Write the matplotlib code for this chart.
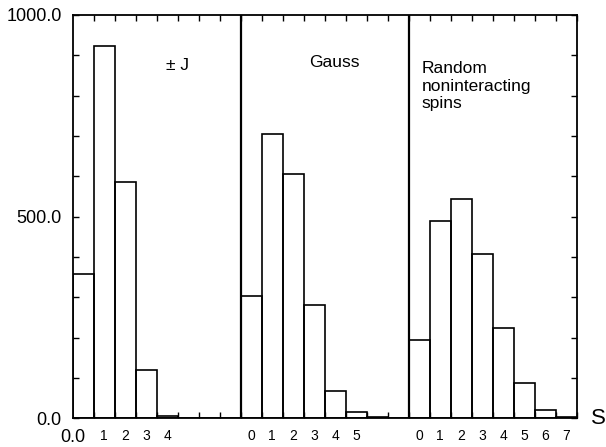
import matplotlib
matplotlib.use("Agg")
import matplotlib.pyplot as plt
from matplotlib.ticker import MultipleLocator

plt.rcParams['font.family'] = ['Liberation Sans', 'DejaVu Sans']

# ---- data ----
panel_titles = ["± J", "Gauss", "Random\nnoninteracting\nspins"]
pm_j_counts = [357, 923, 585, 120, 5, 0, 0, 0]
gauss_counts = [303, 706, 605, 282, 68, 16, 2, 0]
random_counts = [195, 489, 543, 408, 223, 87, 21, 4]
pm_j_ticklabels = ["", "1", "2", "3", "4"]          # first bin carries the "0.0" origin label
gauss_ticklabels = ["0", "1", "2", "3", "4", "5"]
random_ticklabels = ["0", "1", "2", "3", "4", "5", "6", "7"]
origin_label = "0.0"
y_ticks = [0, 500, 1000]
y_ticklabels = ["0.0", "500.0", "1000.0"]
x_axis_label = "S"

panels = [pm_j_counts, gauss_counts, random_counts]
panel_ticks = [pm_j_ticklabels, gauss_ticklabels, random_ticklabels]
nbins = 8

fig = plt.figure(figsize=(6.06, 4.47), dpi=100)
ax = fig.add_axes([72.7 / 606, (447 - 418.3) / 447, 504 / 606, 403.3 / 447])

tick_pos = [0]
tick_lab = [origin_label]
for i, counts in enumerate(panels):
    off = i * nbins
    xs = [off + k for k in range(len(counts))]
    ax.bar(xs, counts, width=1.0, align='edge', fill=False,
           edgecolor='black', linewidth=1.2)
    for k, lab in enumerate(panel_ticks[i]):
        if lab:
            tick_pos.append(off + k + 0.5)
            tick_lab.append(lab)

for i in range(1, len(panels)):
    ax.axvline(i * nbins, color='black', linewidth=1.6)

ax.set_xlim(0, nbins * len(panels))
ax.set_ylim(0, 1000)

# text labels inside panels
ax.text(4.43, 876, panel_titles[0], fontsize=12.5, ha='left', va='center')
ax.text(11.25, 883, panel_titles[1], fontsize=12.5, ha='left', va='center')
ax.text(16.62, 885, panel_titles[2], fontsize=12.5, ha='left', va='top',
        linespacing=1.18)

# x ticks
ax.set_xticks(tick_pos)
ax.set_xticklabels(tick_lab)
for t in ax.get_xticklabels():
    t.set_fontsize(13 if t.get_text() == origin_label else 10)
ax.xaxis.set_minor_locator(MultipleLocator(1))
ax.tick_params(axis='x', which='major', length=0, pad=8)
ax.tick_params(axis='x', which='minor', direction='in', length=4, width=1,
               top=True, bottom=True)

# y ticks
ax.set_yticks(y_ticks)
ax.set_yticklabels(y_ticklabels, fontsize=13)
ax.yaxis.set_minor_locator(MultipleLocator(100))
ax.tick_params(axis='y', which='both', direction='in', length=4, width=1,
               left=True, right=True, pad=8)

for s in ax.spines.values():
    s.set_linewidth(1.3)

ax.annotate(x_axis_label, xy=(nbins * len(panels), 0), xycoords='data',
            xytext=(10, 0), textcoords='offset points', fontsize=16,
            ha='left', va='center', annotation_clip=False)

fig.savefig("out.png", dpi=100)
